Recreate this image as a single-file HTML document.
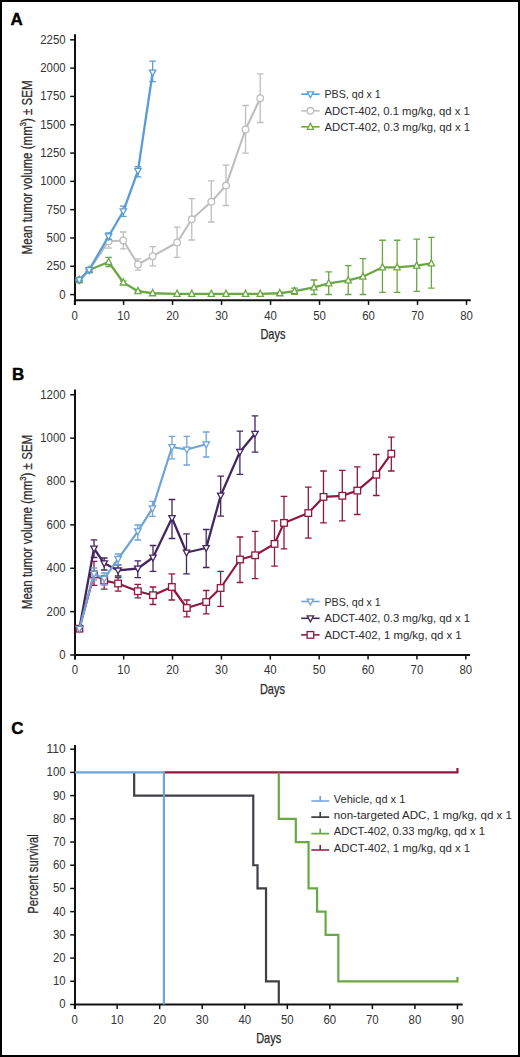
<!DOCTYPE html>
<html><head><meta charset="utf-8"><title>Figure</title>
<style>
html,body{margin:0;padding:0;background:#fff;width:520px;height:1057px;overflow:hidden}
svg{display:block}
text{font-family:"Liberation Sans",sans-serif}
</style></head><body>
<svg width="520" height="1057" viewBox="0 0 520 1057">
<rect x="1" y="1" width="518" height="1055" fill="#fff" stroke="#000" stroke-width="2"/>
<text x="10.5" y="24.8" font-size="17" font-weight="bold" fill="#000" stroke="#000" stroke-width="0.4">A</text>
<text x="12" y="379.8" font-size="17" font-weight="bold" fill="#000" stroke="#000" stroke-width="0.4">B</text>
<text x="11.2" y="734" font-size="17" font-weight="bold" fill="#000" stroke="#000" stroke-width="0.4">C</text>
<path d="M75 34.2V304.9" stroke="#111" stroke-width="2"/>
<path d="M74 300.3H470.8" stroke="#111" stroke-width="2"/>
<path d="M70.2 294.6H75" stroke="#111" stroke-width="1.5"/>
<text x="65.6" y="298.5" font-size="12" text-anchor="end" fill="#333333" textLength="6.35" lengthAdjust="spacingAndGlyphs">0</text>
<path d="M70.2 266.29H75" stroke="#111" stroke-width="1.5"/>
<text x="65.6" y="270.19" font-size="12" text-anchor="end" fill="#333333" textLength="19.05" lengthAdjust="spacingAndGlyphs">250</text>
<path d="M70.2 237.98H75" stroke="#111" stroke-width="1.5"/>
<text x="65.6" y="241.88" font-size="12" text-anchor="end" fill="#333333" textLength="19.05" lengthAdjust="spacingAndGlyphs">500</text>
<path d="M70.2 209.67H75" stroke="#111" stroke-width="1.5"/>
<text x="65.6" y="213.57" font-size="12" text-anchor="end" fill="#333333" textLength="19.05" lengthAdjust="spacingAndGlyphs">750</text>
<path d="M70.2 181.36H75" stroke="#111" stroke-width="1.5"/>
<text x="65.6" y="185.26" font-size="12" text-anchor="end" fill="#333333" textLength="25.4" lengthAdjust="spacingAndGlyphs">1000</text>
<path d="M70.2 153.05H75" stroke="#111" stroke-width="1.5"/>
<text x="65.6" y="156.95" font-size="12" text-anchor="end" fill="#333333" textLength="25.4" lengthAdjust="spacingAndGlyphs">1250</text>
<path d="M70.2 124.74H75" stroke="#111" stroke-width="1.5"/>
<text x="65.6" y="128.64" font-size="12" text-anchor="end" fill="#333333" textLength="25.4" lengthAdjust="spacingAndGlyphs">1500</text>
<path d="M70.2 96.43H75" stroke="#111" stroke-width="1.5"/>
<text x="65.6" y="100.33" font-size="12" text-anchor="end" fill="#333333" textLength="25.4" lengthAdjust="spacingAndGlyphs">1750</text>
<path d="M70.2 68.12H75" stroke="#111" stroke-width="1.5"/>
<text x="65.6" y="72.02" font-size="12" text-anchor="end" fill="#333333" textLength="25.4" lengthAdjust="spacingAndGlyphs">2000</text>
<path d="M70.2 39.81H75" stroke="#111" stroke-width="1.5"/>
<text x="65.6" y="43.71" font-size="12" text-anchor="end" fill="#333333" textLength="25.4" lengthAdjust="spacingAndGlyphs">2250</text>
<path d="M74.6 300.3V304.9" stroke="#111" stroke-width="1.5"/>
<text x="74.6" y="319.5" font-size="12" text-anchor="middle" fill="#333333" textLength="6.35" lengthAdjust="spacingAndGlyphs">0</text>
<path d="M123.59 300.3V304.9" stroke="#111" stroke-width="1.5"/>
<text x="123.59" y="319.5" font-size="12" text-anchor="middle" fill="#333333" textLength="12.7" lengthAdjust="spacingAndGlyphs">10</text>
<path d="M172.58 300.3V304.9" stroke="#111" stroke-width="1.5"/>
<text x="172.58" y="319.5" font-size="12" text-anchor="middle" fill="#333333" textLength="12.7" lengthAdjust="spacingAndGlyphs">20</text>
<path d="M221.57 300.3V304.9" stroke="#111" stroke-width="1.5"/>
<text x="221.57" y="319.5" font-size="12" text-anchor="middle" fill="#333333" textLength="12.7" lengthAdjust="spacingAndGlyphs">30</text>
<path d="M270.56 300.3V304.9" stroke="#111" stroke-width="1.5"/>
<text x="270.56" y="319.5" font-size="12" text-anchor="middle" fill="#333333" textLength="12.7" lengthAdjust="spacingAndGlyphs">40</text>
<path d="M319.55 300.3V304.9" stroke="#111" stroke-width="1.5"/>
<text x="319.55" y="319.5" font-size="12" text-anchor="middle" fill="#333333" textLength="12.7" lengthAdjust="spacingAndGlyphs">50</text>
<path d="M368.54 300.3V304.9" stroke="#111" stroke-width="1.5"/>
<text x="368.54" y="319.5" font-size="12" text-anchor="middle" fill="#333333" textLength="12.7" lengthAdjust="spacingAndGlyphs">60</text>
<path d="M417.53 300.3V304.9" stroke="#111" stroke-width="1.5"/>
<text x="417.53" y="319.5" font-size="12" text-anchor="middle" fill="#333333" textLength="12.7" lengthAdjust="spacingAndGlyphs">70</text>
<path d="M466.52 300.3V304.9" stroke="#111" stroke-width="1.5"/>
<text x="466.52" y="319.5" font-size="12" text-anchor="middle" fill="#333333" textLength="12.7" lengthAdjust="spacingAndGlyphs">80</text>
<text x="272.9" y="338.8" font-size="14.4" text-anchor="middle" fill="#2b2b2b" stroke="#2b2b2b" stroke-width="0.25" textLength="25" lengthAdjust="spacingAndGlyphs">Days</text>
<path d="M89.07 267.76V272.29M85.77 267.76H92.37M85.77 272.29H92.37" stroke="#bebebe" stroke-width="1.3" fill="none"/>
<path d="M108.63 234.47V248.06M105.33 234.47H111.93M105.33 248.06H111.93" stroke="#bebebe" stroke-width="1.3" fill="none"/>
<path d="M123.3 231.98V248.96M120 231.98H126.6M120 248.96H126.6" stroke="#bebebe" stroke-width="1.3" fill="none"/>
<path d="M137.97 258.82V270.14M134.67 258.82H141.27M134.67 270.14H141.27" stroke="#bebebe" stroke-width="1.3" fill="none"/>
<path d="M152.64 246.59V265.84M149.34 246.59H155.94M149.34 265.84H155.94" stroke="#bebebe" stroke-width="1.3" fill="none"/>
<path d="M177.09 227.11V257.46M173.79 227.11H180.39M173.79 257.46H180.39" stroke="#bebebe" stroke-width="1.3" fill="none"/>
<path d="M191.76 198.69V240.02M188.46 198.69H195.06M188.46 240.02H195.06" stroke="#bebebe" stroke-width="1.3" fill="none"/>
<path d="M211.32 180.79V222.01M208.02 180.79H214.62M208.02 222.01H214.62" stroke="#bebebe" stroke-width="1.3" fill="none"/>
<path d="M225.99 165.05V205.48M222.69 165.05H229.29M222.69 205.48H229.29" stroke="#bebebe" stroke-width="1.3" fill="none"/>
<path d="M245.55 105.49V153.05M242.25 105.49H248.85M242.25 153.05H248.85" stroke="#bebebe" stroke-width="1.3" fill="none"/>
<path d="M260.22 73.78V122.48M256.92 73.78H263.52M256.92 122.48H263.52" stroke="#bebebe" stroke-width="1.3" fill="none"/>
<path d="M79.29 279.99 L89.07 270.03 L108.63 241.26 L123.3 240.47 L137.97 264.48 L152.64 256.21 L177.09 242.51 L191.76 219.3 L211.32 201.74 L225.99 185.55 L245.55 129.5 L260.22 98.24" stroke="#bebebe" stroke-width="2.1" fill="none" stroke-linejoin="round"/>
<circle cx="79.29" cy="279.99" r="3.3" fill="#fff" stroke="#bebebe" stroke-width="1.3"/>
<circle cx="89.07" cy="270.03" r="3.3" fill="#fff" stroke="#bebebe" stroke-width="1.3"/>
<circle cx="108.63" cy="241.26" r="3.3" fill="#fff" stroke="#bebebe" stroke-width="1.3"/>
<circle cx="123.3" cy="240.47" r="3.3" fill="#fff" stroke="#bebebe" stroke-width="1.3"/>
<circle cx="137.97" cy="264.48" r="3.3" fill="#fff" stroke="#bebebe" stroke-width="1.3"/>
<circle cx="152.64" cy="256.21" r="3.3" fill="#fff" stroke="#bebebe" stroke-width="1.3"/>
<circle cx="177.09" cy="242.51" r="3.3" fill="#fff" stroke="#bebebe" stroke-width="1.3"/>
<circle cx="191.76" cy="219.3" r="3.3" fill="#fff" stroke="#bebebe" stroke-width="1.3"/>
<circle cx="211.32" cy="201.74" r="3.3" fill="#fff" stroke="#bebebe" stroke-width="1.3"/>
<circle cx="225.99" cy="185.55" r="3.3" fill="#fff" stroke="#bebebe" stroke-width="1.3"/>
<circle cx="245.55" cy="129.5" r="3.3" fill="#fff" stroke="#bebebe" stroke-width="1.3"/>
<circle cx="260.22" cy="98.24" r="3.3" fill="#fff" stroke="#bebebe" stroke-width="1.3"/>
<path d="M89.07 268.33V271.73M85.77 268.33H92.37M85.77 271.73H92.37" stroke="#6aa843" stroke-width="1.3" fill="none"/>
<path d="M108.63 257.46V266.52M105.33 257.46H111.93M105.33 266.52H111.93" stroke="#6aa843" stroke-width="1.3" fill="none"/>
<path d="M123.3 281.12V283.84M120 281.12H126.6M120 283.84H126.6" stroke="#6aa843" stroke-width="1.3" fill="none"/>
<path d="M137.97 290.3V292.11M134.67 290.3H141.27M134.67 292.11H141.27" stroke="#6aa843" stroke-width="1.3" fill="none"/>
<path d="M152.64 292.67V293.81M149.34 292.67H155.94M149.34 293.81H155.94" stroke="#6aa843" stroke-width="1.3" fill="none"/>
<path d="M279.78 292.34V294.15M276.48 292.34H283.08M276.48 294.15H283.08" stroke="#6aa843" stroke-width="1.3" fill="none"/>
<path d="M294.45 288.03V294.37M291.15 288.03H297.75M291.15 294.37H297.75" stroke="#6aa843" stroke-width="1.3" fill="none"/>
<path d="M314.01 279.99V294.49M310.71 279.99H317.31M310.71 294.49H317.31" stroke="#6aa843" stroke-width="1.3" fill="none"/>
<path d="M328.68 271.95V294.49M325.38 271.95H331.98M325.38 294.49H331.98" stroke="#6aa843" stroke-width="1.3" fill="none"/>
<path d="M348.24 265.72V294.49M344.94 265.72H351.54M344.94 294.49H351.54" stroke="#6aa843" stroke-width="1.3" fill="none"/>
<path d="M362.91 258.7V294.49M359.61 258.7H366.21M359.61 294.49H366.21" stroke="#6aa843" stroke-width="1.3" fill="none"/>
<path d="M382.47 240.24V292.34M379.17 240.24H385.77M379.17 292.34H385.77" stroke="#6aa843" stroke-width="1.3" fill="none"/>
<path d="M397.14 240.24V292.34M393.84 240.24H400.44M393.84 292.34H400.44" stroke="#6aa843" stroke-width="1.3" fill="none"/>
<path d="M416.7 239.11V291.43M413.4 239.11H420M413.4 291.43H420" stroke="#6aa843" stroke-width="1.3" fill="none"/>
<path d="M431.37 237.41V288.15M428.07 237.41H434.67M428.07 288.15H434.67" stroke="#6aa843" stroke-width="1.3" fill="none"/>
<path d="M79.29 279.99 L89.07 270.03 L108.63 261.99 L123.3 282.48 L137.97 291.2 L152.64 293.24 L177.09 293.81 L191.76 293.81 L211.32 293.81 L225.99 293.81 L245.55 293.81 L260.22 293.81 L279.78 293.24 L294.45 291.2 L314.01 287.47 L328.68 283.28 L348.24 280.45 L362.91 276.71 L382.47 267.31 L397.14 267.31 L416.7 265.61 L431.37 263.46" stroke="#6aa843" stroke-width="2.3" fill="none" stroke-linejoin="round"/>
<polygon points="76.19,282.49 82.39,282.49 79.29,276.29" fill="#fff" stroke="#6aa843" stroke-width="1.3" stroke-linejoin="miter"/>
<polygon points="85.97,272.53 92.17,272.53 89.07,266.33" fill="#fff" stroke="#6aa843" stroke-width="1.3" stroke-linejoin="miter"/>
<polygon points="105.53,264.49 111.73,264.49 108.63,258.29" fill="#fff" stroke="#6aa843" stroke-width="1.3" stroke-linejoin="miter"/>
<polygon points="120.2,284.98 126.4,284.98 123.3,278.78" fill="#fff" stroke="#6aa843" stroke-width="1.3" stroke-linejoin="miter"/>
<polygon points="134.87,293.7 141.07,293.7 137.97,287.5" fill="#fff" stroke="#6aa843" stroke-width="1.3" stroke-linejoin="miter"/>
<polygon points="149.54,295.74 155.74,295.74 152.64,289.54" fill="#fff" stroke="#6aa843" stroke-width="1.3" stroke-linejoin="miter"/>
<polygon points="173.99,296.31 180.19,296.31 177.09,290.11" fill="#fff" stroke="#6aa843" stroke-width="1.3" stroke-linejoin="miter"/>
<polygon points="188.66,296.31 194.86,296.31 191.76,290.11" fill="#fff" stroke="#6aa843" stroke-width="1.3" stroke-linejoin="miter"/>
<polygon points="208.22,296.31 214.42,296.31 211.32,290.11" fill="#fff" stroke="#6aa843" stroke-width="1.3" stroke-linejoin="miter"/>
<polygon points="222.89,296.31 229.09,296.31 225.99,290.11" fill="#fff" stroke="#6aa843" stroke-width="1.3" stroke-linejoin="miter"/>
<polygon points="242.45,296.31 248.65,296.31 245.55,290.11" fill="#fff" stroke="#6aa843" stroke-width="1.3" stroke-linejoin="miter"/>
<polygon points="257.12,296.31 263.32,296.31 260.22,290.11" fill="#fff" stroke="#6aa843" stroke-width="1.3" stroke-linejoin="miter"/>
<polygon points="276.68,295.74 282.88,295.74 279.78,289.54" fill="#fff" stroke="#6aa843" stroke-width="1.3" stroke-linejoin="miter"/>
<polygon points="291.35,293.7 297.55,293.7 294.45,287.5" fill="#fff" stroke="#6aa843" stroke-width="1.3" stroke-linejoin="miter"/>
<polygon points="310.91,289.97 317.11,289.97 314.01,283.77" fill="#fff" stroke="#6aa843" stroke-width="1.3" stroke-linejoin="miter"/>
<polygon points="325.58,285.78 331.78,285.78 328.68,279.58" fill="#fff" stroke="#6aa843" stroke-width="1.3" stroke-linejoin="miter"/>
<polygon points="345.14,282.95 351.34,282.95 348.24,276.75" fill="#fff" stroke="#6aa843" stroke-width="1.3" stroke-linejoin="miter"/>
<polygon points="359.81,279.21 366.01,279.21 362.91,273.01" fill="#fff" stroke="#6aa843" stroke-width="1.3" stroke-linejoin="miter"/>
<polygon points="379.37,269.81 385.57,269.81 382.47,263.61" fill="#fff" stroke="#6aa843" stroke-width="1.3" stroke-linejoin="miter"/>
<polygon points="394.04,269.81 400.24,269.81 397.14,263.61" fill="#fff" stroke="#6aa843" stroke-width="1.3" stroke-linejoin="miter"/>
<polygon points="413.6,268.11 419.8,268.11 416.7,261.91" fill="#fff" stroke="#6aa843" stroke-width="1.3" stroke-linejoin="miter"/>
<polygon points="428.27,265.96 434.47,265.96 431.37,259.76" fill="#fff" stroke="#6aa843" stroke-width="1.3" stroke-linejoin="miter"/>
<path d="M79.29 278.86V281.12M75.99 278.86H82.59M75.99 281.12H82.59" stroke="#5b9cd6" stroke-width="1.3" fill="none"/>
<path d="M89.07 268.33V271.73M85.77 268.33H92.37M85.77 271.73H92.37" stroke="#5b9cd6" stroke-width="1.3" fill="none"/>
<path d="M108.63 232.88V239.68M105.33 232.88H111.93M105.33 239.68H111.93" stroke="#5b9cd6" stroke-width="1.3" fill="none"/>
<path d="M123.3 206.05V216.46M120 206.05H126.6M120 216.46H126.6" stroke="#5b9cd6" stroke-width="1.3" fill="none"/>
<path d="M137.97 166.64V176.83M134.67 166.64H141.27M134.67 176.83H141.27" stroke="#5b9cd6" stroke-width="1.3" fill="none"/>
<path d="M152.64 61.21V81.71M149.34 61.21H155.94M149.34 81.71H155.94" stroke="#5b9cd6" stroke-width="1.3" fill="none"/>
<path d="M79.29 279.99 L89.07 270.03 L108.63 236.28 L123.3 211.26 L137.97 170.83 L152.64 72.54" stroke="#5b9cd6" stroke-width="2.3" fill="none" stroke-linejoin="round"/>
<polygon points="76.09,277.59 82.49,277.59 79.29,283.49" fill="#fff" stroke="#5b9cd6" stroke-width="1.3" stroke-linejoin="miter"/>
<polygon points="85.87,267.63 92.27,267.63 89.07,273.53" fill="#fff" stroke="#5b9cd6" stroke-width="1.3" stroke-linejoin="miter"/>
<polygon points="105.43,233.88 111.83,233.88 108.63,239.78" fill="#fff" stroke="#5b9cd6" stroke-width="1.3" stroke-linejoin="miter"/>
<polygon points="120.1,208.86 126.5,208.86 123.3,214.76" fill="#fff" stroke="#5b9cd6" stroke-width="1.3" stroke-linejoin="miter"/>
<polygon points="134.77,168.43 141.17,168.43 137.97,174.33" fill="#fff" stroke="#5b9cd6" stroke-width="1.3" stroke-linejoin="miter"/>
<polygon points="149.44,70.14 155.84,70.14 152.64,76.04" fill="#fff" stroke="#5b9cd6" stroke-width="1.3" stroke-linejoin="miter"/>
<path d="M301.2 94.2H319.6" stroke="#5b9cd6" stroke-width="1.6"/><polygon points="307.2,91.8 313.6,91.8 310.4,97.7" fill="#fff" stroke="#5b9cd6" stroke-width="1.3" stroke-linejoin="miter"/>
<text x="324.5" y="98.2" font-size="11.4" text-anchor="start" fill="#2b2b2b" textLength="56.3" lengthAdjust="spacingAndGlyphs">PBS, qd x 1</text>
<path d="M301.2 110.8H319.6" stroke="#bebebe" stroke-width="1.6"/><circle cx="310.4" cy="110.8" r="3.3" fill="#fff" stroke="#bebebe" stroke-width="1.3"/>
<text x="324.5" y="114.8" font-size="11.4" text-anchor="start" fill="#2b2b2b" textLength="145.2" lengthAdjust="spacingAndGlyphs">ADCT-402, 0.1 mg/kg, qd x 1</text>
<path d="M301.2 126.8H319.6" stroke="#6aa843" stroke-width="1.6"/><polygon points="307.3,129.3 313.5,129.3 310.4,123.1" fill="#fff" stroke="#6aa843" stroke-width="1.3" stroke-linejoin="miter"/>
<text x="324.5" y="130.8" font-size="11.4" text-anchor="start" fill="#2b2b2b" textLength="145.6" lengthAdjust="spacingAndGlyphs">ADCT-402, 0.3 mg/kg, qd x 1</text>
<text transform="translate(31.5 167.4) rotate(-90)" x="0" y="0" font-size="14.4" text-anchor="middle" fill="#2b2b2b" stroke="#2b2b2b" stroke-width="0.25" textLength="174" lengthAdjust="spacingAndGlyphs">Mean tumor volume (mm<tspan dy="-5.2" font-size="9.5">3</tspan><tspan dy="5.2">) ± SEM</tspan></text>
<path d="M75 389.4V659.6" stroke="#111" stroke-width="2"/>
<path d="M74 655H470" stroke="#111" stroke-width="2"/>
<path d="M70.2 655H75" stroke="#111" stroke-width="1.5"/>
<text x="65.6" y="658.9" font-size="12" text-anchor="end" fill="#333333" textLength="6.35" lengthAdjust="spacingAndGlyphs">0</text>
<path d="M70.2 611.63H75" stroke="#111" stroke-width="1.5"/>
<text x="65.6" y="615.53" font-size="12" text-anchor="end" fill="#333333" textLength="19.05" lengthAdjust="spacingAndGlyphs">200</text>
<path d="M70.2 568.27H75" stroke="#111" stroke-width="1.5"/>
<text x="65.6" y="572.17" font-size="12" text-anchor="end" fill="#333333" textLength="19.05" lengthAdjust="spacingAndGlyphs">400</text>
<path d="M70.2 524.9H75" stroke="#111" stroke-width="1.5"/>
<text x="65.6" y="528.8" font-size="12" text-anchor="end" fill="#333333" textLength="19.05" lengthAdjust="spacingAndGlyphs">600</text>
<path d="M70.2 481.54H75" stroke="#111" stroke-width="1.5"/>
<text x="65.6" y="485.44" font-size="12" text-anchor="end" fill="#333333" textLength="19.05" lengthAdjust="spacingAndGlyphs">800</text>
<path d="M70.2 438.17H75" stroke="#111" stroke-width="1.5"/>
<text x="65.6" y="442.07" font-size="12" text-anchor="end" fill="#333333" textLength="25.4" lengthAdjust="spacingAndGlyphs">1000</text>
<path d="M70.2 394.8H75" stroke="#111" stroke-width="1.5"/>
<text x="65.6" y="398.7" font-size="12" text-anchor="end" fill="#333333" textLength="25.4" lengthAdjust="spacingAndGlyphs">1200</text>
<path d="M74.8 655V659.6" stroke="#111" stroke-width="1.5"/>
<text x="74.8" y="673.5" font-size="12" text-anchor="middle" fill="#333333" textLength="6.35" lengthAdjust="spacingAndGlyphs">0</text>
<path d="M123.67 655V659.6" stroke="#111" stroke-width="1.5"/>
<text x="123.67" y="673.5" font-size="12" text-anchor="middle" fill="#333333" textLength="12.7" lengthAdjust="spacingAndGlyphs">10</text>
<path d="M172.55 655V659.6" stroke="#111" stroke-width="1.5"/>
<text x="172.55" y="673.5" font-size="12" text-anchor="middle" fill="#333333" textLength="12.7" lengthAdjust="spacingAndGlyphs">20</text>
<path d="M221.43 655V659.6" stroke="#111" stroke-width="1.5"/>
<text x="221.43" y="673.5" font-size="12" text-anchor="middle" fill="#333333" textLength="12.7" lengthAdjust="spacingAndGlyphs">30</text>
<path d="M270.3 655V659.6" stroke="#111" stroke-width="1.5"/>
<text x="270.3" y="673.5" font-size="12" text-anchor="middle" fill="#333333" textLength="12.7" lengthAdjust="spacingAndGlyphs">40</text>
<path d="M319.18 655V659.6" stroke="#111" stroke-width="1.5"/>
<text x="319.18" y="673.5" font-size="12" text-anchor="middle" fill="#333333" textLength="12.7" lengthAdjust="spacingAndGlyphs">50</text>
<path d="M368.05 655V659.6" stroke="#111" stroke-width="1.5"/>
<text x="368.05" y="673.5" font-size="12" text-anchor="middle" fill="#333333" textLength="12.7" lengthAdjust="spacingAndGlyphs">60</text>
<path d="M416.93 655V659.6" stroke="#111" stroke-width="1.5"/>
<text x="416.93" y="673.5" font-size="12" text-anchor="middle" fill="#333333" textLength="12.7" lengthAdjust="spacingAndGlyphs">70</text>
<path d="M465.8 655V659.6" stroke="#111" stroke-width="1.5"/>
<text x="465.8" y="673.5" font-size="12" text-anchor="middle" fill="#333333" textLength="12.7" lengthAdjust="spacingAndGlyphs">80</text>
<text x="272.4" y="693.6" font-size="14.4" text-anchor="middle" fill="#2b2b2b" stroke="#2b2b2b" stroke-width="0.25" textLength="25" lengthAdjust="spacingAndGlyphs">Days</text>
<path d="M94 561.3V585.4M90.7 561.3H97.3M90.7 585.4H97.3" stroke="#8f1840" stroke-width="1.3" fill="none"/>
<path d="M104.2 575.8V589.2M100.9 575.8H107.5M100.9 589.2H107.5" stroke="#8f1840" stroke-width="1.3" fill="none"/>
<path d="M118.1 577.7V591.2M114.8 577.7H121.4M114.8 591.2H121.4" stroke="#8f1840" stroke-width="1.3" fill="none"/>
<path d="M137.8 584.4V597.9M134.5 584.4H141.1M134.5 597.9H141.1" stroke="#8f1840" stroke-width="1.3" fill="none"/>
<path d="M153 587V604.5M149.7 587H156.3M149.7 604.5H156.3" stroke="#8f1840" stroke-width="1.3" fill="none"/>
<path d="M171.8 573.8V600M168.5 573.8H175.1M168.5 600H175.1" stroke="#8f1840" stroke-width="1.3" fill="none"/>
<path d="M186.8 600V616.8M183.5 600H190.1M183.5 616.8H190.1" stroke="#8f1840" stroke-width="1.3" fill="none"/>
<path d="M206.2 590.5V613.8M202.9 590.5H209.5M202.9 613.8H209.5" stroke="#8f1840" stroke-width="1.3" fill="none"/>
<path d="M220.6 571.3V606.3M217.3 571.3H223.9M217.3 606.3H223.9" stroke="#8f1840" stroke-width="1.3" fill="none"/>
<path d="M240 537V582.5M236.7 537H243.3M236.7 582.5H243.3" stroke="#8f1840" stroke-width="1.3" fill="none"/>
<path d="M255.1 531.4V578.6M251.8 531.4H258.4M251.8 578.6H258.4" stroke="#8f1840" stroke-width="1.3" fill="none"/>
<path d="M274.5 520.9V566.1M271.2 520.9H277.8M271.2 566.1H277.8" stroke="#8f1840" stroke-width="1.3" fill="none"/>
<path d="M284 496.3V548.8M280.7 496.3H287.3M280.7 548.8H287.3" stroke="#8f1840" stroke-width="1.3" fill="none"/>
<path d="M308.3 487.1V538.2M305 487.1H311.6M305 538.2H311.6" stroke="#8f1840" stroke-width="1.3" fill="none"/>
<path d="M323.5 471V522.9M320.2 471H326.8M320.2 522.9H326.8" stroke="#8f1840" stroke-width="1.3" fill="none"/>
<path d="M342.3 470.4V520.9M339 470.4H345.6M339 520.9H345.6" stroke="#8f1840" stroke-width="1.3" fill="none"/>
<path d="M357.3 466.9V514.5M354 466.9H360.6M354 514.5H360.6" stroke="#8f1840" stroke-width="1.3" fill="none"/>
<path d="M376.3 454.5V495.5M373 454.5H379.6M373 495.5H379.6" stroke="#8f1840" stroke-width="1.3" fill="none"/>
<path d="M391.3 437.2V471M388 437.2H394.6M388 471H394.6" stroke="#8f1840" stroke-width="1.3" fill="none"/>
<path d="M79.4 628.7 L94 574.4 L104.2 580.6 L118.1 583.5 L137.8 591.2 L153 595.2 L171.8 587 L186.8 608 L206.2 602 L220.6 588 L240 559.5 L255.1 555.3 L274.5 543.9 L284 522.9 L308.3 513.1 L323.5 496.9 L342.3 495.8 L357.3 490.6 L376.3 474.7 L391.3 453.7" stroke="#8f1840" stroke-width="2.2" fill="none" stroke-linejoin="round"/>
<rect x="76.1" y="625.4" width="6.6" height="6.6" fill="#fff" stroke="#8f1840" stroke-width="1.3"/>
<rect x="90.7" y="571.1" width="6.6" height="6.6" fill="#fff" stroke="#8f1840" stroke-width="1.3"/>
<rect x="100.9" y="577.3" width="6.6" height="6.6" fill="#fff" stroke="#8f1840" stroke-width="1.3"/>
<rect x="114.8" y="580.2" width="6.6" height="6.6" fill="#fff" stroke="#8f1840" stroke-width="1.3"/>
<rect x="134.5" y="587.9" width="6.6" height="6.6" fill="#fff" stroke="#8f1840" stroke-width="1.3"/>
<rect x="149.7" y="591.9" width="6.6" height="6.6" fill="#fff" stroke="#8f1840" stroke-width="1.3"/>
<rect x="168.5" y="583.7" width="6.6" height="6.6" fill="#fff" stroke="#8f1840" stroke-width="1.3"/>
<rect x="183.5" y="604.7" width="6.6" height="6.6" fill="#fff" stroke="#8f1840" stroke-width="1.3"/>
<rect x="202.9" y="598.7" width="6.6" height="6.6" fill="#fff" stroke="#8f1840" stroke-width="1.3"/>
<rect x="217.3" y="584.7" width="6.6" height="6.6" fill="#fff" stroke="#8f1840" stroke-width="1.3"/>
<rect x="236.7" y="556.2" width="6.6" height="6.6" fill="#fff" stroke="#8f1840" stroke-width="1.3"/>
<rect x="251.8" y="552" width="6.6" height="6.6" fill="#fff" stroke="#8f1840" stroke-width="1.3"/>
<rect x="271.2" y="540.6" width="6.6" height="6.6" fill="#fff" stroke="#8f1840" stroke-width="1.3"/>
<rect x="280.7" y="519.6" width="6.6" height="6.6" fill="#fff" stroke="#8f1840" stroke-width="1.3"/>
<rect x="305" y="509.8" width="6.6" height="6.6" fill="#fff" stroke="#8f1840" stroke-width="1.3"/>
<rect x="320.2" y="493.6" width="6.6" height="6.6" fill="#fff" stroke="#8f1840" stroke-width="1.3"/>
<rect x="339" y="492.5" width="6.6" height="6.6" fill="#fff" stroke="#8f1840" stroke-width="1.3"/>
<rect x="354" y="487.3" width="6.6" height="6.6" fill="#fff" stroke="#8f1840" stroke-width="1.3"/>
<rect x="373" y="471.4" width="6.6" height="6.6" fill="#fff" stroke="#8f1840" stroke-width="1.3"/>
<rect x="388" y="450.4" width="6.6" height="6.6" fill="#fff" stroke="#8f1840" stroke-width="1.3"/>
<path d="M94 539.8V557.5M90.7 539.8H97.3M90.7 557.5H97.3" stroke="#45275f" stroke-width="1.3" fill="none"/>
<path d="M104.2 558V570M100.9 558H107.5M100.9 570H107.5" stroke="#45275f" stroke-width="1.3" fill="none"/>
<path d="M118.1 565V576M114.8 565H121.4M114.8 576H121.4" stroke="#45275f" stroke-width="1.3" fill="none"/>
<path d="M137.8 560.8V577.7M134.5 560.8H141.1M134.5 577.7H141.1" stroke="#45275f" stroke-width="1.3" fill="none"/>
<path d="M153 545.5V571.3M149.7 545.5H156.3M149.7 571.3H156.3" stroke="#45275f" stroke-width="1.3" fill="none"/>
<path d="M172 499.5V538.5M168.7 499.5H175.3M168.7 538.5H175.3" stroke="#45275f" stroke-width="1.3" fill="none"/>
<path d="M186.5 533.8V573.8M183.2 533.8H189.8M183.2 573.8H189.8" stroke="#45275f" stroke-width="1.3" fill="none"/>
<path d="M206.2 529.5V567.5M202.9 529.5H209.5M202.9 567.5H209.5" stroke="#45275f" stroke-width="1.3" fill="none"/>
<path d="M220.7 476.2V516.2M217.4 476.2H224M217.4 516.2H224" stroke="#45275f" stroke-width="1.3" fill="none"/>
<path d="M239.9 431.1V474.4M236.6 431.1H243.2M236.6 474.4H243.2" stroke="#45275f" stroke-width="1.3" fill="none"/>
<path d="M255 415.9V452.2M251.7 415.9H258.3M251.7 452.2H258.3" stroke="#45275f" stroke-width="1.3" fill="none"/>
<path d="M79.4 628.7 L94 548.5 L104.2 563.3 L118.1 570.4 L137.8 568.5 L153 557.5 L172 518 L186.5 552.5 L206.2 548 L220.7 495.5 L239.9 451.9 L255 433.7" stroke="#45275f" stroke-width="2.3" fill="none" stroke-linejoin="round"/>
<polygon points="76.2,626.3 82.6,626.3 79.4,632.2" fill="#fff" stroke="#45275f" stroke-width="1.3" stroke-linejoin="miter"/>
<polygon points="90.8,546.1 97.2,546.1 94,552" fill="#fff" stroke="#45275f" stroke-width="1.3" stroke-linejoin="miter"/>
<polygon points="101,560.9 107.4,560.9 104.2,566.8" fill="#fff" stroke="#45275f" stroke-width="1.3" stroke-linejoin="miter"/>
<polygon points="114.9,568 121.3,568 118.1,573.9" fill="#fff" stroke="#45275f" stroke-width="1.3" stroke-linejoin="miter"/>
<polygon points="134.6,566.1 141,566.1 137.8,572" fill="#fff" stroke="#45275f" stroke-width="1.3" stroke-linejoin="miter"/>
<polygon points="149.8,555.1 156.2,555.1 153,561" fill="#fff" stroke="#45275f" stroke-width="1.3" stroke-linejoin="miter"/>
<polygon points="168.8,515.6 175.2,515.6 172,521.5" fill="#fff" stroke="#45275f" stroke-width="1.3" stroke-linejoin="miter"/>
<polygon points="183.3,550.1 189.7,550.1 186.5,556" fill="#fff" stroke="#45275f" stroke-width="1.3" stroke-linejoin="miter"/>
<polygon points="203,545.6 209.4,545.6 206.2,551.5" fill="#fff" stroke="#45275f" stroke-width="1.3" stroke-linejoin="miter"/>
<polygon points="217.5,493.1 223.9,493.1 220.7,499" fill="#fff" stroke="#45275f" stroke-width="1.3" stroke-linejoin="miter"/>
<polygon points="236.7,449.5 243.1,449.5 239.9,455.4" fill="#fff" stroke="#45275f" stroke-width="1.3" stroke-linejoin="miter"/>
<polygon points="251.8,431.3 258.2,431.3 255,437.2" fill="#fff" stroke="#45275f" stroke-width="1.3" stroke-linejoin="miter"/>
<path d="M94 568V580M90.7 568H97.3M90.7 580H97.3" stroke="#6fa4d6" stroke-width="1.3" fill="none"/>
<path d="M104.2 573V585M100.9 573H107.5M100.9 585H107.5" stroke="#6fa4d6" stroke-width="1.3" fill="none"/>
<path d="M118.1 554V565M114.8 554H121.4M114.8 565H121.4" stroke="#6fa4d6" stroke-width="1.3" fill="none"/>
<path d="M137.8 525V540M134.5 525H141.1M134.5 540H141.1" stroke="#6fa4d6" stroke-width="1.3" fill="none"/>
<path d="M152.5 501.3V516.3M149.2 501.3H155.8M149.2 516.3H155.8" stroke="#6fa4d6" stroke-width="1.3" fill="none"/>
<path d="M172 436.3V458.8M168.7 436.3H175.3M168.7 458.8H175.3" stroke="#6fa4d6" stroke-width="1.3" fill="none"/>
<path d="M186.8 436.3V465M183.5 436.3H190.1M183.5 465H190.1" stroke="#6fa4d6" stroke-width="1.3" fill="none"/>
<path d="M206.2 432V457M202.9 432H209.5M202.9 457H209.5" stroke="#6fa4d6" stroke-width="1.3" fill="none"/>
<path d="M79.4 628.7 L94 573.8 L104.2 578.7 L118.1 559 L137.8 531.3 L152.5 508.3 L172 447 L186.8 449.5 L206.2 444.3" stroke="#6fa4d6" stroke-width="2.2" fill="none" stroke-linejoin="round"/>
<polygon points="76.2,626.3 82.6,626.3 79.4,632.2" fill="#fff" stroke="#6fa4d6" stroke-width="1.3" stroke-linejoin="miter"/>
<polygon points="90.8,571.4 97.2,571.4 94,577.3" fill="#fff" stroke="#6fa4d6" stroke-width="1.3" stroke-linejoin="miter"/>
<polygon points="101,576.3 107.4,576.3 104.2,582.2" fill="#fff" stroke="#6fa4d6" stroke-width="1.3" stroke-linejoin="miter"/>
<polygon points="114.9,556.6 121.3,556.6 118.1,562.5" fill="#fff" stroke="#6fa4d6" stroke-width="1.3" stroke-linejoin="miter"/>
<polygon points="134.6,528.9 141,528.9 137.8,534.8" fill="#fff" stroke="#6fa4d6" stroke-width="1.3" stroke-linejoin="miter"/>
<polygon points="149.3,505.9 155.7,505.9 152.5,511.8" fill="#fff" stroke="#6fa4d6" stroke-width="1.3" stroke-linejoin="miter"/>
<polygon points="168.8,444.6 175.2,444.6 172,450.5" fill="#fff" stroke="#6fa4d6" stroke-width="1.3" stroke-linejoin="miter"/>
<polygon points="183.6,447.1 190,447.1 186.8,453" fill="#fff" stroke="#6fa4d6" stroke-width="1.3" stroke-linejoin="miter"/>
<polygon points="203,441.9 209.4,441.9 206.2,447.8" fill="#fff" stroke="#6fa4d6" stroke-width="1.3" stroke-linejoin="miter"/>
<path d="M301.2 601.5H319.6" stroke="#6fa4d6" stroke-width="1.6"/><polygon points="307.2,599.1 313.6,599.1 310.4,605" fill="#fff" stroke="#6fa4d6" stroke-width="1.3" stroke-linejoin="miter"/>
<text x="324.5" y="605.5" font-size="11.4" text-anchor="start" fill="#2b2b2b" textLength="56.3" lengthAdjust="spacingAndGlyphs">PBS, qd x 1</text>
<path d="M301.2 618.3H319.6" stroke="#45275f" stroke-width="1.6"/><polygon points="307.2,615.9 313.6,615.9 310.4,621.8" fill="#fff" stroke="#45275f" stroke-width="1.3" stroke-linejoin="miter"/>
<text x="324.5" y="622.3" font-size="11.4" text-anchor="start" fill="#2b2b2b" textLength="145.6" lengthAdjust="spacingAndGlyphs">ADCT-402, 0.3 mg/kg, qd x 1</text>
<path d="M301.2 634.9H319.6" stroke="#8f1840" stroke-width="1.6"/><rect x="307.1" y="631.6" width="6.6" height="6.6" fill="#fff" stroke="#8f1840" stroke-width="1.3"/>
<text x="324.5" y="638.9" font-size="11.4" text-anchor="start" fill="#2b2b2b" textLength="137.2" lengthAdjust="spacingAndGlyphs">ADCT-402, 1 mg/kg, qd x 1</text>
<text transform="translate(31.5 522) rotate(-90)" x="0" y="0" font-size="14.4" text-anchor="middle" fill="#2b2b2b" stroke="#2b2b2b" stroke-width="0.25" textLength="174.5" lengthAdjust="spacingAndGlyphs">Mean tumor volume (mm<tspan dy="-5.2" font-size="9.5">3</tspan><tspan dy="5.2">) ± SEM</tspan></text>
<path d="M75 745V1009.1" stroke="#111" stroke-width="2"/>
<path d="M74 1004.5H462.7" stroke="#111" stroke-width="2"/>
<path d="M70.2 1004.5H75" stroke="#111" stroke-width="1.5"/>
<text x="65.6" y="1008.4" font-size="12" text-anchor="end" fill="#333333" textLength="6.35" lengthAdjust="spacingAndGlyphs">0</text>
<path d="M70.2 981.29H75" stroke="#111" stroke-width="1.5"/>
<text x="65.6" y="985.19" font-size="12" text-anchor="end" fill="#333333" textLength="12.7" lengthAdjust="spacingAndGlyphs">10</text>
<path d="M70.2 958.08H75" stroke="#111" stroke-width="1.5"/>
<text x="65.6" y="961.98" font-size="12" text-anchor="end" fill="#333333" textLength="12.7" lengthAdjust="spacingAndGlyphs">20</text>
<path d="M70.2 934.87H75" stroke="#111" stroke-width="1.5"/>
<text x="65.6" y="938.77" font-size="12" text-anchor="end" fill="#333333" textLength="12.7" lengthAdjust="spacingAndGlyphs">30</text>
<path d="M70.2 911.66H75" stroke="#111" stroke-width="1.5"/>
<text x="65.6" y="915.56" font-size="12" text-anchor="end" fill="#333333" textLength="12.7" lengthAdjust="spacingAndGlyphs">40</text>
<path d="M70.2 888.45H75" stroke="#111" stroke-width="1.5"/>
<text x="65.6" y="892.35" font-size="12" text-anchor="end" fill="#333333" textLength="12.7" lengthAdjust="spacingAndGlyphs">50</text>
<path d="M70.2 865.24H75" stroke="#111" stroke-width="1.5"/>
<text x="65.6" y="869.14" font-size="12" text-anchor="end" fill="#333333" textLength="12.7" lengthAdjust="spacingAndGlyphs">60</text>
<path d="M70.2 842.03H75" stroke="#111" stroke-width="1.5"/>
<text x="65.6" y="845.93" font-size="12" text-anchor="end" fill="#333333" textLength="12.7" lengthAdjust="spacingAndGlyphs">70</text>
<path d="M70.2 818.82H75" stroke="#111" stroke-width="1.5"/>
<text x="65.6" y="822.72" font-size="12" text-anchor="end" fill="#333333" textLength="12.7" lengthAdjust="spacingAndGlyphs">80</text>
<path d="M70.2 795.61H75" stroke="#111" stroke-width="1.5"/>
<text x="65.6" y="799.51" font-size="12" text-anchor="end" fill="#333333" textLength="12.7" lengthAdjust="spacingAndGlyphs">90</text>
<path d="M70.2 772.4H75" stroke="#111" stroke-width="1.5"/>
<text x="65.6" y="776.3" font-size="12" text-anchor="end" fill="#333333" textLength="19.05" lengthAdjust="spacingAndGlyphs">100</text>
<path d="M70.2 749.19H75" stroke="#111" stroke-width="1.5"/>
<text x="65.6" y="753.09" font-size="12" text-anchor="end" fill="#333333" textLength="19.05" lengthAdjust="spacingAndGlyphs">110</text>
<path d="M74.6 1004.5V1009.1" stroke="#111" stroke-width="1.5"/>
<text x="74.6" y="1023.5" font-size="12" text-anchor="middle" fill="#333333" textLength="6.35" lengthAdjust="spacingAndGlyphs">0</text>
<path d="M117.14 1004.5V1009.1" stroke="#111" stroke-width="1.5"/>
<text x="117.14" y="1023.5" font-size="12" text-anchor="middle" fill="#333333" textLength="12.7" lengthAdjust="spacingAndGlyphs">10</text>
<path d="M159.68 1004.5V1009.1" stroke="#111" stroke-width="1.5"/>
<text x="159.68" y="1023.5" font-size="12" text-anchor="middle" fill="#333333" textLength="12.7" lengthAdjust="spacingAndGlyphs">20</text>
<path d="M202.22 1004.5V1009.1" stroke="#111" stroke-width="1.5"/>
<text x="202.22" y="1023.5" font-size="12" text-anchor="middle" fill="#333333" textLength="12.7" lengthAdjust="spacingAndGlyphs">30</text>
<path d="M244.76 1004.5V1009.1" stroke="#111" stroke-width="1.5"/>
<text x="244.76" y="1023.5" font-size="12" text-anchor="middle" fill="#333333" textLength="12.7" lengthAdjust="spacingAndGlyphs">40</text>
<path d="M287.3 1004.5V1009.1" stroke="#111" stroke-width="1.5"/>
<text x="287.3" y="1023.5" font-size="12" text-anchor="middle" fill="#333333" textLength="12.7" lengthAdjust="spacingAndGlyphs">50</text>
<path d="M329.84 1004.5V1009.1" stroke="#111" stroke-width="1.5"/>
<text x="329.84" y="1023.5" font-size="12" text-anchor="middle" fill="#333333" textLength="12.7" lengthAdjust="spacingAndGlyphs">60</text>
<path d="M372.38 1004.5V1009.1" stroke="#111" stroke-width="1.5"/>
<text x="372.38" y="1023.5" font-size="12" text-anchor="middle" fill="#333333" textLength="12.7" lengthAdjust="spacingAndGlyphs">70</text>
<path d="M414.92 1004.5V1009.1" stroke="#111" stroke-width="1.5"/>
<text x="414.92" y="1023.5" font-size="12" text-anchor="middle" fill="#333333" textLength="12.7" lengthAdjust="spacingAndGlyphs">80</text>
<path d="M457.46 1004.5V1009.1" stroke="#111" stroke-width="1.5"/>
<text x="457.46" y="1023.5" font-size="12" text-anchor="middle" fill="#333333" textLength="12.7" lengthAdjust="spacingAndGlyphs">90</text>
<text x="268.7" y="1043.1" font-size="14.4" text-anchor="middle" fill="#2b2b2b" stroke="#2b2b2b" stroke-width="0.25" textLength="25" lengthAdjust="spacingAndGlyphs">Days</text>
<path d="M163.93 772.4H457.46 V768.1" stroke="#8f1840" stroke-width="2.2" fill="none"/>

<path d="M278.79 772.4 H278.79 V818.82 H295.81 V842.03 H308.57 V888.45 H317.08 V911.66 H325.59 V934.87 H338.35 V981.29 H457.46 V976.99" stroke="#6aa843" stroke-width="2.2" fill="none"/>
<path d="M134.16 772.4 H134.16 V795.61 H253.27 V865.24 H257.52 V888.45 H266.03 V981.29 H278.79 V1004.5" stroke="#3e4046" stroke-width="2.2" fill="none"/>
<path d="M75 772.4H163.93 V1004.5" stroke="#6ca4d7" stroke-width="2.2" fill="none"/>
<path d="M311.3 801H329.2M320.2 801V796" stroke="#6ca4d7" stroke-width="1.6" fill="none"/>
<text x="333.8" y="802.5" font-size="11.5" text-anchor="start" fill="#2b2b2b" textLength="71.5" lengthAdjust="spacingAndGlyphs">Vehicle, qd x 1</text>
<path d="M311.3 817.1H329.2M320.2 817.1V812.1" stroke="#3e4046" stroke-width="1.6" fill="none"/>
<text x="333.8" y="818.6" font-size="11.5" text-anchor="start" fill="#2b2b2b" textLength="178.2" lengthAdjust="spacingAndGlyphs">non-targeted ADC, 1 mg/kg, qd x 1</text>
<path d="M311.3 833.6H329.2M320.2 833.6V828.6" stroke="#6aa843" stroke-width="1.6" fill="none"/>
<text x="333.8" y="835.1" font-size="11.5" text-anchor="start" fill="#2b2b2b" textLength="151.2" lengthAdjust="spacingAndGlyphs">ADCT-402, 0.33 mg/kg, qd x 1</text>
<path d="M311.3 850H329.2M320.2 850V845" stroke="#8f1840" stroke-width="1.6" fill="none"/>
<text x="333.8" y="851.5" font-size="11.5" text-anchor="start" fill="#2b2b2b" textLength="136.2" lengthAdjust="spacingAndGlyphs">ADCT-402, 1 mg/kg, qd x 1</text>
<text transform="translate(38.1 874) rotate(-90)" x="0" y="0" font-size="14.4" text-anchor="middle" fill="#2b2b2b" stroke="#2b2b2b" stroke-width="0.25" textLength="79.5" lengthAdjust="spacingAndGlyphs">Percent survival</text>
</svg>
</body></html>
